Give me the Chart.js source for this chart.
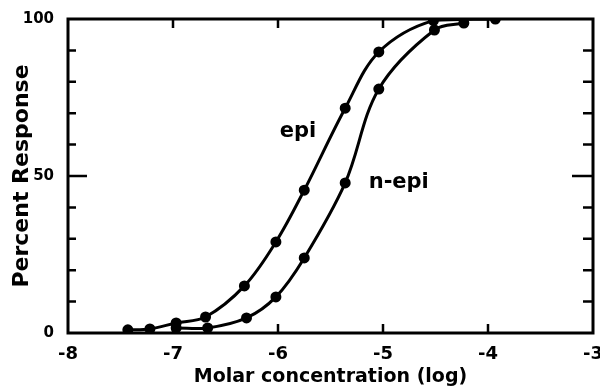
<!DOCTYPE html>
<html>
<head>
<meta charset="utf-8">
<script src="https://cdn.jsdelivr.net/npm/chart.js@4/dist/chart.umd.min.js"></script>
<style>
  html, body { margin: 0; padding: 0; background: #fff; }
  #wrap { width: 600px; height: 392px; }
</style>
</head>
<body>
<div id="wrap"><canvas id="chart" width="600" height="392"></canvas></div>
<script>
// Data (log molar concentration vs percent response)
const epiX = [-7.43, -7.22, -6.97, -6.69, -6.32, -6.02, -5.75, -5.36, -5.04, -4.52, -3.93];
const epiY = [1.0, 1.3, 3.2, 5.1, 15, 29, 45.5, 71.6, 89.5, 99.5, 100];
const nepiX = [-6.97, -6.67, -6.30, -6.02, -5.75, -5.36, -5.04, -4.51, -4.23];
const nepiY = [1.6, 1.6, 4.8, 11.5, 23.9, 47.8, 77.7, 96.5, 98.7];
const xTickLabels = ['-8', '-7', '-6', '-5', '-4', '-3'];
const yTickLabels = ['0', '50', '100'];
const curveLabels = [
  { text: 'epi', x: -5.81, y: 64 },
  { text: 'n-epi', x: -4.85, y: 48 }
];

const INK = '#000';
const FONT = 'DejaVu Sans';

const toPoints = (xs, ys) => xs.map((x, i) => ({ x: x, y: ys[i] }));

// frame + inward ticks + curve labels
const framePlugin = {
  id: 'frame',
  afterDraw(chart) {
    const ctx = chart.ctx;
    const a = chart.chartArea;
    const xs = chart.scales.x, ys = chart.scales.y;
    ctx.save();
    ctx.strokeStyle = INK;
    ctx.lineWidth = 3;
    ctx.strokeRect(a.left, a.top, a.right - a.left, a.bottom - a.top);
    ctx.lineWidth = 2.5;
    ctx.beginPath();
    for (let v = 10; v < 100; v += 10) {
      const py = ys.getPixelForValue(v);
      const len = v === 50 ? 19 : 8;
      ctx.moveTo(a.left, py); ctx.lineTo(a.left + len, py);
      ctx.moveTo(a.right, py); ctx.lineTo(a.right - len - 2, py);
    }
    for (let v = -7; v <= -4; v++) {
      const px = xs.getPixelForValue(v);
      ctx.moveTo(px, a.bottom); ctx.lineTo(px, a.bottom - 9);
      ctx.moveTo(px, a.top); ctx.lineTo(px, a.top + 9);
    }
    ctx.stroke();
    ctx.fillStyle = INK;
    ctx.font = 'bold 21px ' + FONT;
    ctx.textAlign = 'center';
    ctx.textBaseline = 'middle';
    curveLabels.forEach(l => {
      ctx.fillText(l.text, xs.getPixelForValue(l.x), ys.getPixelForValue(l.y));
    });
    ctx.restore();
  }
};

const lineStyle = {
  showLine: true,
  borderColor: INK,
  backgroundColor: INK,
  borderWidth: 3,
  pointRadius: 4,
  pointHoverRadius: 4,
  tension: 0.35
};

new Chart(document.getElementById('chart'), {
  type: 'scatter',
  data: {
    datasets: [
      Object.assign({ label: 'epi', data: toPoints(epiX, epiY) }, lineStyle),
      Object.assign({ label: 'n-epi', data: toPoints(nepiX, nepiY) }, lineStyle)
    ]
  },
  options: {
    responsive: false,
    animation: false,
    events: [],
    layout: { padding: { top: 19, right: 3, left: 0, bottom: 0 } },
    plugins: {
      legend: { display: false },
      tooltip: { enabled: false }
    },
    scales: {
      x: {
        type: 'linear',
        min: -8,
        max: -3,
        grid: { display: false },
        border: { display: false },
        ticks: {
          stepSize: 1,
          padding: 3,
          color: INK,
          font: { family: FONT, size: 18, weight: 'bold' },
          callback: (v) => xTickLabels.includes(String(v)) ? String(v) : ''
        },
        title: {
          display: true,
          text: 'Molar concentration (log)',
          color: INK,
          font: { family: FONT, size: 19, weight: 'bold' },
          padding: { top: 0, bottom: 4 }
        },
        afterFit(scale) {
          scale.height = 59;
          scale.paddingLeft = 0;
          scale.paddingRight = 0;
        }
      },
      y: {
        min: 0,
        max: 100,
        grid: { display: false },
        border: { display: false },
        ticks: {
          stepSize: 10,
          padding: 6,
          color: INK,
          font: { family: FONT, size: 15, weight: 'bold' },
          callback: (v) => yTickLabels.includes(String(v)) ? String(v) : ''
        },
        title: {
          display: true,
          text: 'Percent Response',
          color: INK,
          font: { family: FONT, size: 22, weight: 'bold' },
          padding: { top: 9, bottom: 0 }
        },
        afterFit(scale) {
          scale.width = 68;
          scale.paddingTop = 0;
          scale.paddingBottom = 0;
        }
      }
    }
  },
  plugins: [framePlugin]
});
</script>
</body>
</html>
